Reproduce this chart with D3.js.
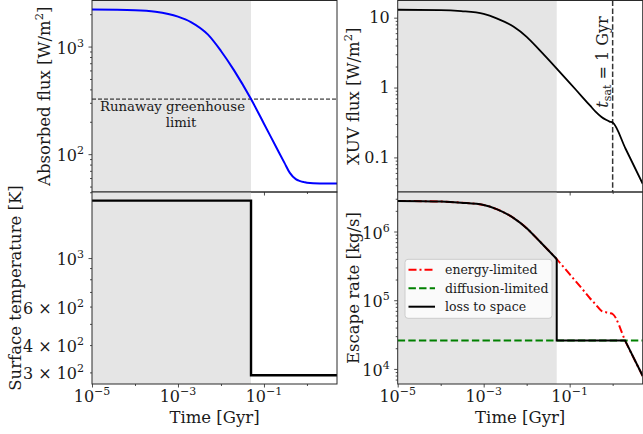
<!DOCTYPE html>
<html>
<head>
<meta charset="utf-8">
<script src="https://cdn.jsdelivr.net/npm/d3@7"></script>
<style>
body { margin: 0; background: #fff; }
svg text { font-family: "DejaVu Serif", serif; fill: #1a1a1a; }
</style>
</head>
<body>
<svg id="chart" width="643" height="434"></svg>
<script>
// values (time in Gyr)
var timeRange = [1e-5, 5];
var timeGyr = [1e-5, 1e-4, 3e-4, 1e-3, 2e-3, 5e-3, 1e-2, 2e-2, 5e-2, 0.1, 0.2, 0.3, 0.4, 0.55, 0.7, 0.85, 1, 2, 5];
var absorbedFlux = [2210, 2180, 2110, 1900, 1690, 1290, 910, 604, 325, 192, 113, 83, 67, 58.6, 56.2, 55, 54.2, 53.5, 53.4];
var xuvFlux = [12.97, 12.85, 12.4, 11.3, 9.77, 7.4, 5.32, 3.43, 1.87, 1.17, 0.725, 0.55, 0.452, 0.379, 0.345, 0.325, 0.315, 0.133, 0.042];
var energyLimited = [2.79e6, 2.73e6, 2.63e6, 2.44e6, 2.12e6, 1.57e6, 1.12e6, 7.2e5, 3.97e5, 2.39e5, 1.44e5, 1.06e5, 8.7e4, 7.0e4, 6.7e4, 6.5e4, 6.3e4, 2.5e4, 7.9e3];
var diffusionTime = [1e-5, 5];
var diffusionLimited = [2.6e4, 2.6e4];
var lossTailTime = [0.05, 0.05, 1.94, 5];
var lossTailRate = [3.97e5, 2.6e4, 2.6e4, 7.9e3];
var tempTime = [1e-5, 0.05, 0.05, 5];
var surfaceTemp = [1830, 1830, 291, 291];
var runawayLimit = 325;
var shadeEnd = 0.05;
var tSat = 1;

var svg = d3.select('#chart');
var cols = [{x0: 92, x1: 337}, {x0: 397.7, x1: 642.7}];
var rows = [{y0: 0.5, y1: 192}, {y0: 192, y1: 384}];
var SUP = 11;

function minorTicks(domain) {
    var out = [];
    var e0 = Math.floor(Math.log10(domain[0])), e1 = Math.ceil(Math.log10(domain[1]));
    for (var e = e0; e <= e1; e++) {
        for (var k = 2; k <= 9; k++) {
            var v = k * Math.pow(10, e);
            if (v > domain[0] && v < domain[1]) out.push(v);
        }
    }
    return out;
}

var cid = 0;
function panel(c, r, yDomain) {
    var col = cols[c], row = rows[r];
    var x = d3.scaleLog().domain(timeRange).range([col.x0, col.x1]);
    var y = d3.scaleLog().domain(yDomain).range([row.y1, row.y0]);
    var g = svg.append('g');
    var id = 'clip' + (cid++);
    svg.append('clipPath').attr('id', id).append('rect')
        .attr('x', col.x0).attr('y', row.y0)
        .attr('width', col.x1 - col.x0).attr('height', row.y1 - row.y0);
    // shaded early phase
    g.append('rect')
        .attr('x', x(timeRange[0])).attr('y', row.y0)
        .attr('width', x(shadeEnd) - x(timeRange[0]))
        .attr('height', row.y1 - row.y0)
        .attr('fill', '#e5e5e5');
    var plot = g.append('g').attr('clip-path', 'url(#' + id + ')');
    return {x: x, y: y, g: g, plot: plot, col: col, row: row};
}

function frame(p, yMajor, yLabels, xLabels) {
    var col = p.col, row = p.row;
    var left = col.x0;
    // y ticks
    var ya = p.g.append('g').attr('transform', 'translate(' + left + ',0)');
    ya.call(d3.axisLeft(p.y).tickValues(yMajor).tickSize(3.5).tickFormat(''));
    ya.append('g').call(d3.axisLeft(p.y).tickValues(minorTicks(p.y.domain())).tickSize(2).tickFormat(''));
    ya.selectAll('.domain').remove();
    ya.selectAll('line').attr('stroke', '#222').attr('stroke-width', 0.8);
    yLabels.forEach(function (l) {
        var t = p.g.append('text')
            .attr('x', left - 8)
            .attr('y', p.y(l.v) + (l.sup ? 7 : 5.8))
            .attr('text-anchor', 'end')
            .attr('font-size', '16px');
        t.append('tspan').text(l.base);
        if (l.sup) t.append('tspan').attr('dy', -7).attr('font-size', SUP + 'px').text(l.sup);
    });
    // x ticks
    var xa = p.g.append('g').attr('transform', 'translate(0,' + row.y1 + ')');
    xa.call(d3.axisBottom(p.x).tickValues([1e-5, 1e-3, 1e-1]).tickSize(3.5).tickFormat(''));
    xa.append('g').call(d3.axisBottom(p.x).tickValues([1e-4, 1e-2, 1]).tickSize(2).tickFormat(''));
    xa.selectAll('.domain').remove();
    xa.selectAll('line').attr('stroke', '#222').attr('stroke-width', 0.8);
    if (xLabels) {
        [[1e-5, '\u22125'], [1e-3, '\u22123'], [1e-1, '\u22121']].forEach(function (d) {
            var t = p.g.append('text')
                .attr('x', p.x(d[0])).attr('y', 401.5)
                .attr('text-anchor', 'middle').attr('font-size', '16px');
            t.append('tspan').text('10');
            t.append('tspan').attr('dy', -7).attr('font-size', SUP + 'px').text(d[1]);
        });
        p.g.append('text')
            .attr('x', (col.x0 + col.x1) / 2).attr('y', 423)
            .attr('text-anchor', 'middle').attr('font-size', '16.5px')
            .text('Time [Gyr]');
    }
    // spines
    p.g.append('rect')
        .attr('x', col.x0).attr('y', row.y0)
        .attr('width', col.x1 - col.x0).attr('height', row.y1 - row.y0)
        .attr('fill', 'none').attr('stroke', '#2a2a2a').attr('stroke-width', 1);
}

function yTitle(p, xBase, parts) {
    var cy = (p.row.y0 + p.row.y1) / 2;
    var t = svg.append('text')
        .attr('transform', 'translate(' + xBase + ',' + cy + ') rotate(-90)')
        .attr('text-anchor', 'middle').attr('font-size', '16.5px');
    t.append('tspan').text(parts[0]);
    if (parts.length > 1) {
        t.append('tspan').attr('dy', -7).attr('font-size', '11.5px').text(parts[1]);
        t.append('tspan').attr('dy', 7).text(parts[2]);
    }
}

var lineGen = function (p, curve) {
    return d3.line()
        .x(function (d) { return p.x(d[0]); })
        .y(function (d) { return p.y(d[1]); })
        .curve(curve || d3.curveMonotoneX);
};

// ---------- top left: absorbed flux ----------
var tl = panel(0, 0, [44.5, 2680]);
tl.plot.append('line')
    .attr('x1', tl.col.x0).attr('x2', tl.col.x1)
    .attr('y1', tl.y(runawayLimit)).attr('y2', tl.y(runawayLimit))
    .attr('stroke', '#111').attr('stroke-width', 1).attr('stroke-dasharray', '4,2');
tl.plot.append('path')
    .attr('d', lineGen(tl)(d3.zip(timeGyr, absorbedFlux)))
    .attr('fill', 'none').attr('stroke', '#0000ff').attr('stroke-width', 2);
tl.g.append('text').attr('x', 172.5).attr('y', 111).attr('text-anchor', 'middle')
    .attr('font-size', '13.3px').text('Runaway greenhouse');
tl.g.append('text').attr('x', 181).attr('y', 126.8).attr('text-anchor', 'middle')
    .attr('font-size', '13.3px').text('limit');
frame(tl, [100, 1000], [{v: 100, base: '10', sup: '2'}, {v: 1000, base: '10', sup: '3'}], false);
yTitle(tl, 50, ['Absorbed flux [W/m', '2', ']']);

// ---------- top right: XUV flux ----------
var tr = panel(1, 0, [0.032, 17.6]);
tr.plot.append('line')
    .attr('x1', tr.x(tSat)).attr('x2', tr.x(tSat))
    .attr('y1', tr.row.y0).attr('y2', tr.row.y1)
    .attr('stroke', '#333').attr('stroke-width', 1.5).attr('stroke-dasharray', '5.5,2.4');
tr.plot.append('path')
    .attr('d', lineGen(tr)(d3.zip(timeGyr, xuvFlux)))
    .attr('fill', 'none').attr('stroke', '#000').attr('stroke-width', 1.8);
var ts = svg.append('text')
    .attr('transform', 'translate(' + (tr.x(tSat) - 5) + ',62) rotate(-90)')
    .attr('text-anchor', 'middle').attr('font-size', '16px');
ts.append('tspan').attr('font-style', 'italic').text('t');
ts.append('tspan').attr('dy', 3.5).attr('font-size', '11px').text('sat');
ts.append('tspan').attr('dy', -3.5).text(' = 1 Gyr');
frame(tr, [0.1, 1, 10], [{v: 0.1, base: '0.1'}, {v: 1, base: '1'}, {v: 10, base: '10'}], false);
yTitle(tr, 359, ['XUV flux [W/m', '2', ']']);

// ---------- bottom left: surface temperature ----------
var bl = panel(0, 1, [265.5, 2005]);
bl.plot.append('path')
    .attr('d', lineGen(bl, d3.curveLinear)(d3.zip(tempTime, surfaceTemp)))
    .attr('fill', 'none').attr('stroke', '#000').attr('stroke-width', 2.4);
frame(bl, [1000], [
    {v: 1000, base: '10', sup: '3'},
    {v: 600, base: '6 \u00d7 10', sup: '2'},
    {v: 400, base: '4 \u00d7 10', sup: '2'},
    {v: 300, base: '3 \u00d7 10', sup: '2'}
], true);
yTitle(bl, 20.5, ['Surface temperature [K]']);

// ---------- bottom right: escape rate ----------
var br = panel(1, 1, [6030, 3.76e6]);
br.plot.append('path')
    .attr('d', lineGen(br)(d3.zip(timeGyr, energyLimited)))
    .attr('fill', 'none').attr('stroke', '#ff0000').attr('stroke-width', 2)
    .attr('stroke-dasharray', '8,3,2,3');
br.plot.append('path')
    .attr('d', lineGen(br, d3.curveLinear)(d3.zip(diffusionTime, diffusionLimited)))
    .attr('fill', 'none').attr('stroke', '#008000').attr('stroke-width', 2)
    .attr('stroke-dasharray', '7.4,3.2');
var lossHead = d3.zip(timeGyr, energyLimited).filter(function (d) { return d[0] <= shadeEnd; });
br.plot.append('path')
    .attr('d', lineGen(br)(lossHead))
    .attr('fill', 'none').attr('stroke', '#000').attr('stroke-width', 2);
br.plot.append('path')
    .attr('d', lineGen(br, d3.curveLinear)(d3.zip(lossTailTime, lossTailRate)))
    .attr('fill', 'none').attr('stroke', '#000').attr('stroke-width', 2);
frame(br, [1e4, 1e5, 1e6], [{v: 1e4, base: '10', sup: '4'}, {v: 1e5, base: '10', sup: '5'}, {v: 1e6, base: '10', sup: '6'}], true);
yTitle(br, 358.5, ['Escape rate [kg/s]']);

// legend
var legendItems = [
    {label: 'energy-limited', color: '#ff0000', dash: '8,3,2,3'},
    {label: 'diffusion-limited', color: '#008000', dash: '7.4,3.2'},
    {label: 'loss to space', color: '#000', dash: null}
];
var lg = svg.append('g');
lg.append('rect').attr('x', 405).attr('y', 259.3).attr('width', 147).attr('height', 59)
    .attr('rx', 3).attr('fill', '#fff').attr('fill-opacity', 0.8)
    .attr('stroke', '#cccccc').attr('stroke-width', 1);
legendItems.forEach(function (d, i) {
    var yy = 269.7 + i * 18.5;
    lg.append('line').attr('x1', 408.5).attr('x2', 435).attr('y1', yy).attr('y2', yy)
        .attr('stroke', d.color).attr('stroke-width', 2).attr('stroke-dasharray', d.dash);
    lg.append('text').attr('x', 445).attr('y', yy + 4.3).attr('font-size', '12.5px').text(d.label);
});
</script>
</body>
</html>
